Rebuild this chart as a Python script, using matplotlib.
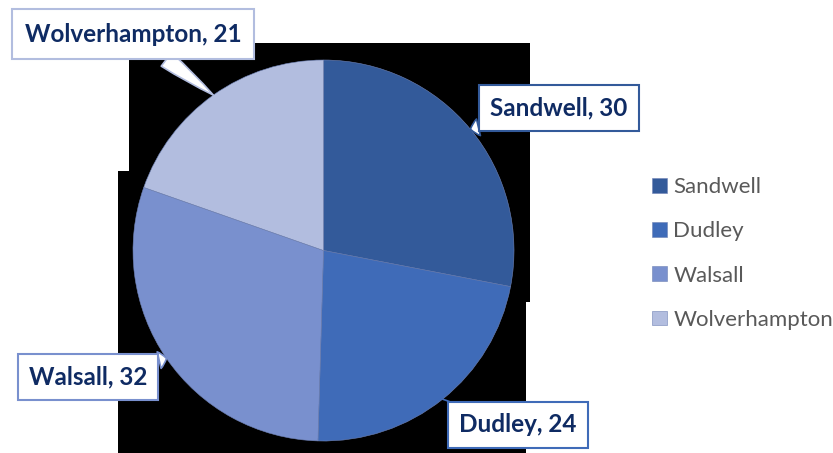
import numpy as np
import matplotlib
matplotlib.use("Agg")
import matplotlib.pyplot as plt
from matplotlib.patches import Polygon

# data
towns = ["Sandwell", "Dudley", "Walsall", "Wolverhampton"]
counts = [30, 24, 32, 21]
colors = ["#335A9A", "#3F6BB8", "#7990CE", "#B2BDDF"]

W, H = 833, 453
plt.rcParams["font.family"] = ["Lato", "DejaVu Sans"]

fig = plt.figure(figsize=(W / 100, H / 100), dpi=100)

# odd black backdrop behind the pie (pixel coords, y from top)
bg_px = [(129, 43), (530, 43), (530, 302), (526, 302), (526, 453),
         (118, 453), (118, 171), (129, 171)]
bg = Polygon([(x / W, 1 - y / H) for x, y in bg_px], closed=True,
             transform=fig.transFigure, facecolor="black", edgecolor="none", zorder=-1)
fig.patches.append(bg)

# pie axes: centre (323.5, 250.5) px, radius 190.5 px
cx, cy, r = 323.5, 250.5, 190.5
ax = fig.add_axes([(cx - r) / W, (H - cy - r) / H, 2 * r / W, 2 * r / H])
wedges, _ = ax.pie(counts, colors=colors, startangle=90, counterclock=False,
                   wedgeprops=dict(edgecolor="#6f82b5", linewidth=0.4))
ax.set_xlim(-1, 1)
ax.set_ylim(-1, 1)
ax.set_aspect("equal")
ax.axis("off")

# label box centres in pixels
label_px = [(559, 108), (518, 425), (88, 377), (133, 34)]
for w, town, n, col, (lx, ly) in zip(wedges, towns, counts, colors, label_px):
    mid = np.deg2rad((w.theta1 + w.theta2) / 2)
    tip = (np.cos(mid), np.sin(mid))
    txt = ((lx - cx) / r, (cy - ly) / r)
    if town == "Dudley":
        arrow = dict(arrowstyle="-", color=col, lw=1.2, shrinkA=0, shrinkB=0)
    else:
        arrow = dict(arrowstyle="wedge,tail_width=0.7,shrink_factor=0.6",
                     fc="white", ec=col, lw=1.2, shrinkA=0, shrinkB=0)
    pad = 0.54 if town == "Wolverhampton" else 0.46
    ax.annotate(f"{town}, {n}", xy=tip, xytext=txt, ha="center", va="center",
                fontsize=17.5, fontweight="bold", color="#0F2B63",
                bbox=dict(boxstyle=f"square,pad={pad}", fc="white", ec=col, lw=1.5),
                arrowprops=arrow, annotation_clip=False)

leg = fig.legend(wedges, towns, loc="upper left", bbox_to_anchor=(641 / W, 1 - 166 / H),
                 frameon=False, fontsize=16, handlelength=0.65, handleheight=0.65,
                 handletextpad=0.3, labelspacing=1.09, borderpad=0)
for t in leg.get_texts():
    t.set_color("#595959")

fig.savefig("out.png", dpi=100)
